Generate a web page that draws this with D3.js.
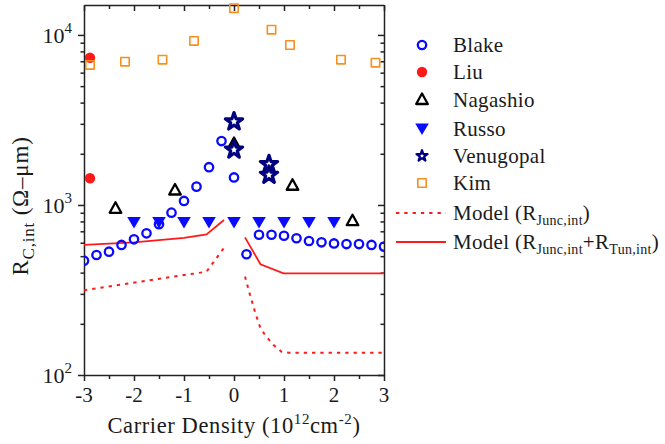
<!DOCTYPE html>
<html><head><meta charset="utf-8">
<script src="https://cdn.jsdelivr.net/npm/d3@7"></script>
<style>
body{margin:0;background:#fff;}
text{font-family:"Liberation Serif","Times New Roman",serif;fill:#1a1a1a;}
</style></head>
<body><svg id="c" width="665" height="444"></svg>
<script>
// ---- data ----
const blakeX = [-3,-2.75,-2.5,-2.25,-2,-1.75,-1.5,-1.25,-1,-0.75,-0.5,-0.25,0,0.25,0.5,0.75,1,1.25,1.5,1.75,2,2.25,2.5,2.75,3];
const blakeY = [470,508,531,582,628,681,770,901,1056,1282,1668,2376,1452,513,668,668,659,637,614,603,594,589,589,582,569];
const liuX = [-2.88,-2.88];
const liuY = [7340,1436];
const nagashioX = [-2.37,-1.18,0,1.17,2.37];
const nagashioY = [956,1225,2300,1306,808];
const russoX = [-2,-1.5,-1,-0.5,0,0.5,1,1.5,2];
const russoY = [790,790,790,790,790,790,790,790,790];
const venugopalX = [0,0,0.7,0.7];
const venugopalY = [3090,2110,1734,1500];
const kimX = [-2.88,-2.18,-1.43,-0.8,0,0.75,1.12,2.14,2.83];
const kimY = [6664,6966,7157,9223,14360,10740,8727,7157,6870];
const juncLeftX = [-3,-0.55,-0.2];
const juncLeftY = [315,405,560];
const juncRightX = [0.22,0.32,0.42,0.52,0.62,0.79,0.95,1.1,3];
const juncRightY = [379,296,235,192,172,150,137,135,135];
const totLeftX = [-3,-2,-1,-0.55,-0.2];
const totLeftY = [582,603,640,671,816];
const totRightX = [0.22,0.53,0.99,3];
const totRightY = [645,448,396,396];
const xTicks = [-3,-2,-1,0,1,2,3];
const yTicks = [100,1000,10000];
const legendNames = ["Blake","Liu","Nagashio","Russo","Venugopal","Kim"];

// ---- layout ----
const svg = d3.select("#c");
const L=84,R=384,T=5,B=375;
const x = d3.scaleLinear().domain([-3,3]).range([L,R]);
const y = d3.scaleLog().domain([100,15000]).range([B,T]);
const zip=(a,b)=>a.map((v,i)=>[v,b[i]]);

const blue="#0a0aff", navy="#00007f", red="#ff1a1a", orange="#f7901e";

svg.append("defs").append("clipPath").attr("id","clip")
  .append("rect").attr("x",L).attr("y",T).attr("width",R-L).attr("height",B-T);

// minor ticks
const minorY=[];
for(let d=100; d<10000*1.01; d*=10){ for(let k=2;k<=9;k++){ if(d*k<=15000) minorY.push(d*k);} }
const minorX = d3.range(-2.5,3,1);

const axStyle = g=>{g.selectAll("path,line").attr("stroke","#222").attr("stroke-width",1.5); g.selectAll("text").remove();};
svg.append("g").attr("transform",`translate(0,${B})`).call(d3.axisBottom(x).tickValues(xTicks).tickSizeInner(6).tickSizeOuter(0)).call(axStyle);
svg.append("g").attr("transform",`translate(0,${B})`).call(d3.axisBottom(x).tickValues(minorX).tickSizeInner(4).tickSizeOuter(0)).call(axStyle).select("path").remove();
svg.append("g").attr("transform",`translate(0,${T})`).call(d3.axisBottom(x).tickValues(xTicks).tickSizeInner(6).tickSizeOuter(0)).call(axStyle);
svg.append("g").attr("transform",`translate(0,${T})`).call(d3.axisBottom(x).tickValues(minorX).tickSizeInner(4).tickSizeOuter(0)).call(axStyle).select("path").remove();
svg.append("g").attr("transform",`translate(${L},0)`).call(d3.axisLeft(y).tickValues(yTicks).tickSizeInner(6).tickSizeOuter(0)).call(axStyle);
svg.append("g").attr("transform",`translate(${L},0)`).call(d3.axisLeft(y).tickValues(minorY).tickSizeInner(3.5).tickSizeOuter(0)).call(axStyle).select("path").remove();
svg.append("g").attr("transform",`translate(${R},0)`).call(d3.axisLeft(y).tickValues(yTicks).tickSizeInner(6).tickSizeOuter(0)).call(axStyle);
svg.append("g").attr("transform",`translate(${R},0)`).call(d3.axisLeft(y).tickValues(minorY).tickSizeInner(3.5).tickSizeOuter(0)).call(axStyle).select("path").remove();

// tick labels
svg.append("g").selectAll("text").data(xTicks).join("text")
  .attr("x",d=>x(d)).attr("y",B+27).attr("text-anchor","middle").attr("font-size",21).text(d=>String(d));
const yl = svg.append("g").selectAll("text").data(yTicks).join("text")
  .attr("x",L-12).attr("y",d=>y(d)+8).attr("text-anchor","end").attr("font-size",22);
yl.append("tspan").text("10");
yl.append("tspan").attr("dy",-10).attr("font-size",15).text(d=>String(Math.round(Math.log10(d))));

// axis titles
const xt = svg.append("text").attr("x",(L+R)/2).attr("y",433).attr("text-anchor","middle").attr("font-size",22.5).attr("letter-spacing",0.6);
xt.append("tspan").text("Carrier Density (10");
xt.append("tspan").attr("dy",-9).attr("font-size",15).text("12");
xt.append("tspan").attr("dy",9).text("cm");
xt.append("tspan").attr("dy",-9).attr("font-size",15).text("-2");
xt.append("tspan").attr("dy",9).text(")");
const yt = svg.append("text").attr("transform",`translate(28,206) rotate(-90)`).attr("text-anchor","middle").attr("font-size",23).attr("letter-spacing",0.8);
yt.append("tspan").text("R");
yt.append("tspan").attr("dy",6).attr("font-size",17).text("C,int");
yt.append("tspan").attr("dy",-6).text(" (Ω–μm)");

// model lines
const line = d3.line().x(d=>x(d[0])).y(d=>y(d[1]));
const plot = svg.append("g").attr("clip-path","url(#clip)");
[[juncLeftX,juncLeftY],[juncRightX,juncRightY]].forEach(([a,b])=>
  plot.append("path").attr("d",line(zip(a,b))).attr("fill","none").attr("stroke",red).attr("stroke-width",2).attr("stroke-dasharray","3.3,5"));
[[totLeftX,totLeftY],[totRightX,totRightY]].forEach(([a,b])=>
  plot.append("path").attr("d",line(zip(a,b))).attr("fill","none").attr("stroke",red).attr("stroke-width",1.8));

// shapes
const shp = {
  circle: "M4.2,0A4.2,4.2,0,1,1,-4.2,0A4.2,4.2,0,1,1,4.2,0Z",
  dot: "M5.2,0A5.2,5.2,0,1,1,-5.2,0A5.2,5.2,0,1,1,5.2,0Z",
  up: "M0,-6L5.8,4.5L-5.8,4.5Z",
  down: "M-6.8,-5.5L6.8,-5.5L0,6Z",
  square: "M-4.2,-4.2L4.2,-4.2L4.2,4.2L-4.2,4.2Z",
  star: d3.symbol(d3.symbolStar, 92)(),
  starSmall: d3.symbol(d3.symbolStar, 38)()
};
const styles = {
  Blake:{d:shp.circle,fill:"none",stroke:blue,sw:2.3},
  Liu:{d:shp.dot,fill:red,stroke:"none",sw:0},
  Nagashio:{d:shp.up,fill:"none",stroke:"#000",sw:2.3},
  Russo:{d:shp.down,fill:blue,stroke:"none",sw:0},
  Venugopal:{d:shp.star,fill:"#fff",stroke:navy,sw:3.2,ld:shp.starSmall,lsw:2.2},
  Kim:{d:shp.square,fill:"none",stroke:orange,sw:1.6}
};
function draw(g,name,xs,ys){
  const s=styles[name];
  g.append("g").selectAll("path").data(zip(xs,ys)).join("path")
   .attr("transform",d=>`translate(${x(d[0])},${y(d[1])})`).attr("d",s.d)
   .attr("fill",s.fill).attr("stroke",s.stroke).attr("stroke-width",s.sw).attr("stroke-linejoin","round");
}
draw(plot,"Blake",blakeX,blakeY);
draw(svg,"Liu",liuX,liuY);
draw(svg,"Nagashio",nagashioX,nagashioY);
draw(svg,"Russo",russoX,russoY);
draw(svg,"Venugopal",venugopalX,venugopalY);
draw(svg,"Kim",kimX,kimY);

// legend
const rows=[45,72,99.5,129,156,183];
legendNames.forEach((n,i)=>{
  const s=styles[n];
  svg.append("path").attr("transform",`translate(422,${rows[i]})`).attr("d",s.ld||s.d)
   .attr("fill",s.fill).attr("stroke",s.stroke).attr("stroke-width",s.lsw||s.sw).attr("stroke-linejoin","round");
  svg.append("text").attr("x",453).attr("y",rows[i]+7).attr("font-size",21).attr("letter-spacing",0.3).text(n);
});
svg.append("line").attr("x1",396).attr("x2",446).attr("y1",213).attr("y2",213).attr("stroke",red).attr("stroke-width",2).attr("stroke-dasharray","3.3,5");
svg.append("line").attr("x1",396).attr("x2",446).attr("y1",242).attr("y2",242).attr("stroke",red).attr("stroke-width",1.8);
const m1 = svg.append("text").attr("x",453).attr("y",220).attr("font-size",21).attr("letter-spacing",0.3);
m1.append("tspan").text("Model (R");
m1.append("tspan").attr("dy",5).attr("font-size",14).text("Junc,int");
m1.append("tspan").attr("dy",-5).text(")");
const m2 = svg.append("text").attr("x",453).attr("y",249).attr("font-size",21).attr("letter-spacing",0.3);
m2.append("tspan").text("Model (R");
m2.append("tspan").attr("dy",5).attr("font-size",14).text("Junc,int");
m2.append("tspan").attr("dy",-5).text("+R");
m2.append("tspan").attr("dy",5).attr("font-size",14).text("Tun,int");
m2.append("tspan").attr("dy",-5).text(")");
</script></body></html>
